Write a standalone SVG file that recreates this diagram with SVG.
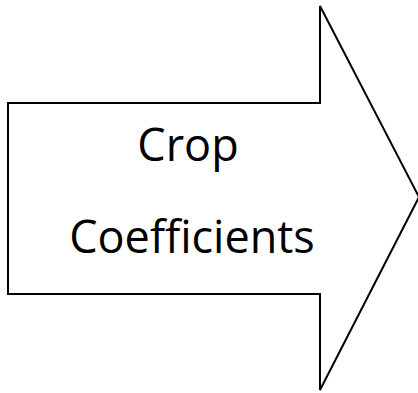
<svg xmlns="http://www.w3.org/2000/svg" width="418" height="393" viewBox="0 0 418 393">
<style>
.shape{fill:#fff;stroke:#000;stroke-width:2;stroke-linejoin:miter}
.lbl{font-family:"Open Sans","Noto Sans",sans-serif;font-size:45px;fill:#000;text-anchor:middle}
</style>
<rect width="418" height="393" fill="#fff"/>
<g id="arrow">
<path class="shape" d="M8,103 H320 V6 L419,197 L320,390 V294 H8 Z"/>
<text class="lbl" x="188" y="161">Crop</text>
<text class="lbl" x="192" y="253">Coefficients</text>
</g>
</svg>
